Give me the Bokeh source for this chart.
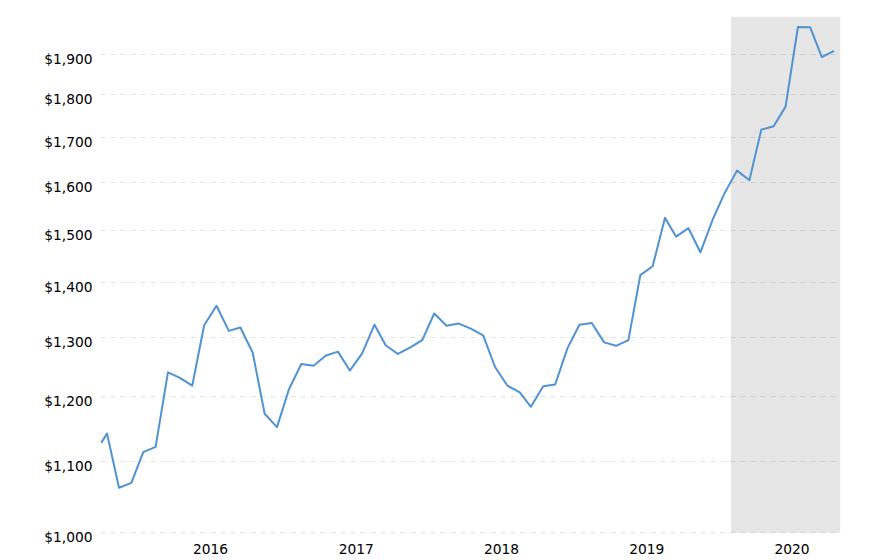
import pandas as pd
from bokeh.plotting import figure
from bokeh.models import (Range1d, LogScale, LogAxis, FixedTicker, NumeralTickFormatter,
                          DatetimeTickFormatter, BoxAnnotation, ColumnDataSource)
from bokeh.embed import file_html
from bokeh.resources import INLINE

# ---- data ----
dates = [
    "2015-04-01",
    "2015-04-16", "2015-05-16", "2015-06-16", "2015-07-16", "2015-08-16", "2015-09-16",
    "2015-10-16", "2015-11-16", "2015-12-16",
    "2016-01-16", "2016-02-16", "2016-03-16", "2016-04-16", "2016-05-16", "2016-06-16",
    "2016-07-16", "2016-08-16", "2016-09-16", "2016-10-16", "2016-11-16", "2016-12-16",
    "2017-01-16", "2017-02-16", "2017-03-16", "2017-04-16", "2017-05-16", "2017-06-16",
    "2017-07-16", "2017-08-16", "2017-09-16", "2017-10-16", "2017-11-16", "2017-12-16",
    "2018-01-16", "2018-02-16", "2018-03-16", "2018-04-16", "2018-05-16", "2018-06-16",
    "2018-07-16", "2018-08-16", "2018-09-16", "2018-10-16", "2018-11-16", "2018-12-16",
    "2019-01-16", "2019-02-16", "2019-03-16", "2019-04-16", "2019-05-16", "2019-06-16",
    "2019-07-16", "2019-08-16", "2019-09-16", "2019-10-16", "2019-11-16", "2019-12-16",
    "2020-01-16", "2020-02-16", "2020-03-16", "2020-04-16",
]
prices = [
    1128,
    1142, 1062, 1069, 1114, 1122, 1240, 1231, 1218, 1321,
    1356, 1311, 1317, 1273, 1173, 1152, 1212, 1254, 1251, 1268, 1275, 1243,
    1272, 1322, 1286, 1271, 1282, 1295, 1342, 1320, 1324, 1315, 1303, 1249,
    1218, 1207, 1184, 1217, 1220, 1281, 1322, 1325, 1291, 1285, 1295, 1413,
    1430, 1526, 1488, 1505, 1457, 1523, 1578, 1626, 1605, 1718, 1726, 1772,
    1972, 1971, 1894, 1910,
]
year_ticks = [2016, 2017, 2018, 2019, 2020]
price_ticks = [1000, 1100, 1200, 1300, 1400, 1500, 1600, 1700, 1800, 1900]
shade_start = "2019-08-01"
x_start = "2015-03-30 12:00"
x_end = "2020-05-02"

# ---- figure ----
FONT = "DejaVu Sans"
FS = "13.8px"
PX_PER_DECADE = 1714.0
extend_px = 6.0                       # frame extends a little below $1,000
label_shift_px = 4.5                  # y labels sit a little below their grid lines
y_lo = 1000 * 10 ** (-extend_px / PX_PER_DECADE)
y_hi = 2000

def ms(s):
    return pd.Timestamp(s).value / 1e6

src = ColumnDataSource(dict(date=pd.to_datetime(dates), price=prices))

p = figure(x_axis_type="datetime", y_axis_type="log",
           x_range=Range1d(ms(x_start), ms(x_end)),
           y_range=Range1d(y_lo, y_hi),
           frame_width=740, frame_height=522,
           min_border_left=100, min_border_top=16, min_border_right=10, min_border_bottom=0,
           output_backend="svg", toolbar_location=None)
p.outline_line_color = None
p.background_fill_color = "white"
p.border_fill_color = "white"

# shaded period
p.add_layout(BoxAnnotation(left=ms(shade_start), bottom=1000,
                           fill_color="#e6e6e6", fill_alpha=1.0,
                           line_color=None, level="image"))

# grid
p.xgrid.visible = False
p.ygrid.ticker = FixedTicker(ticks=price_ticks)
p.ygrid.grid_line_color = "black"
p.ygrid.grid_line_alpha = 0.11
p.ygrid.grid_line_dash = "5 5"
p.ygrid.grid_line_width = 1

# x axis
xa = p.xaxis[0]
xa.ticker = FixedTicker(ticks=[ms(f"{y}-01-01") for y in year_ticks])
xa.formatter = DatetimeTickFormatter(
    microseconds="%Y", milliseconds="%Y", seconds="%Y", minsec="%Y", minutes="%Y",
    hourmin="%Y", hours="%Y", days="%Y", months="%Y", years="%Y")
xa.axis_line_color = None
xa.major_tick_line_color = None
xa.minor_tick_line_color = None
xa.major_tick_out = 0
xa.major_tick_in = 0
xa.major_label_standoff = 5
xa.major_label_text_font = FONT
xa.major_label_text_font_size = FS
xa.major_label_text_color = "#000000"

# y axis: hide default, add label axis on a range shifted a few pixels
p.yaxis.visible = False
k = 10 ** (label_shift_px / PX_PER_DECADE)
p.extra_y_ranges = {"lab": Range1d(y_lo * k, y_hi * k)}
p.extra_y_scales = {"lab": LogScale()}
ya = LogAxis(y_range_name="lab", ticker=FixedTicker(ticks=price_ticks),
             formatter=NumeralTickFormatter(format="$0,0"))
ya.axis_line_color = None
ya.major_tick_line_color = None
ya.minor_tick_line_color = None
ya.major_tick_out = 0
ya.major_tick_in = 0
ya.major_label_standoff = 8
ya.major_label_text_font = FONT
ya.major_label_text_font_size = FS
ya.major_label_text_color = "#000000"
p.add_layout(ya, "left")

# price line
p.line(x="date", y="price", source=src, line_color="#5093d2", line_width=2,
       line_join="round")

open("out.html", "w").write(file_html(p, INLINE))
